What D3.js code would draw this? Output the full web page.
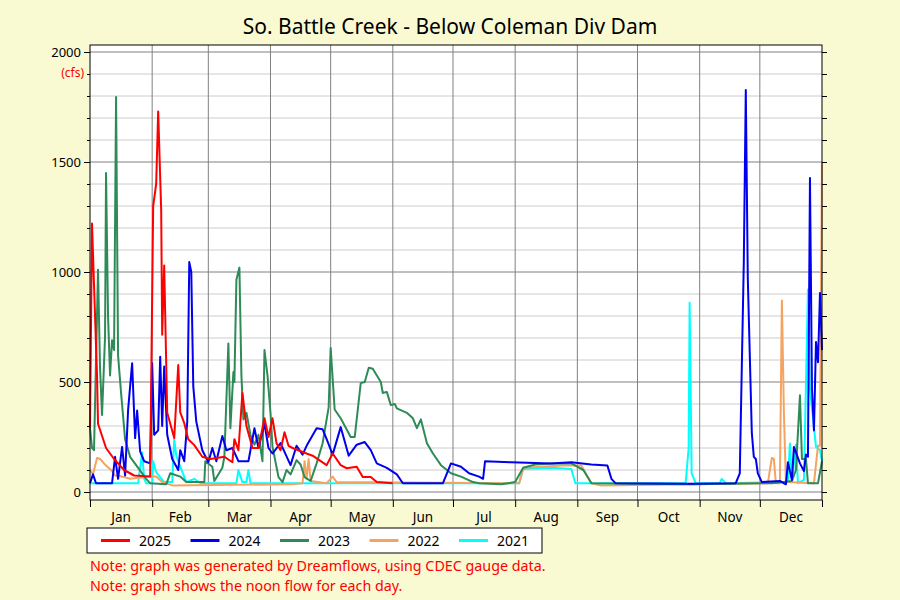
<!DOCTYPE html>
<html><head><meta charset="utf-8">
<script src="https://cdn.jsdelivr.net/npm/d3@7"></script>
<style>body{margin:0;background:#fafad2;}svg{display:block;font-family:"Noto Sans",sans-serif;}</style>
</head><body><svg id="c" width="900" height="600"></svg>
<script>
const months = ["Jan","Feb","Mar","Apr","May","Jun","Jul","Aug","Sep","Oct","Nov","Dec"];
const monthStarts = [0,31,59,90,120,151,181,212,243,273,304,334,365];
const yTicks = [0,500,1000,1500,2000];
const seriesNames = ["2025","2024","2023","2022","2021"];
const seriesColors = ["#ff0000","#0000ee","#2e8b57","#f4a460","#00ffff"];

const s2025 = [[0,290],[1,1220],[3.5,530],[4,310],[8,200],[12,150],[17,100],[22,75],[30,70],[31.5,1300],[33,1400],[34,1730],[35.5,1280],[36,715],[37,1030],[38.5,360],[42,245],[44,577],[45,362],[47,313],[49,240],[52,213],[56,160],[60,150],[67,160],[71,135],[72,240],[74,190],[76,450],[78,300],[81,200],[84,200],[87,335],[89,250],[91,335],[93,222],[95,190],[97,272],[99,210],[101,200],[108,175],[111,165],[118,122],[121,175],[125,122],[128,108],[133,115],[136,68],[140,68],[143,45],[151,40]];
const s2024 = [[0,40],[1.5,80],[3,40],[11,40],[12.5,160],[14,60],[16,205],[17.5,75],[19,373],[21,585],[22.5,245],[23.5,370],[25,185],[27,140],[30,130],[31,585],[32,260],[34,280],[35,615],[36,300],[37,570],[38.5,260],[41,150],[44,100],[45,190],[47,140],[48.5,320],[49.5,1045],[50.5,1000],[51.5,480],[53,320],[56,190],[59,135],[61,200],[63,140],[66,255],[68,190],[71,200],[74,140],[79,140],[82,290],[84,200],[87,310],[89,200],[91,175],[95,222],[100,122],[103,210],[106,170],[108,210],[113,290],[116,285],[118,240],[121,170],[125,295],[129,165],[133,215],[137,227],[140,190],[143,130],[148,110],[153,80],[156,40],[176,40],[180,130],[185,115],[189,85],[194,70],[196,60],[197,140],[210,135],[230,130],[240,135],[250,125],[258,120],[260,60],[262,40],[300,38],[322,40],[324,85],[326,1040],[327,1827],[328,970],[330,270],[331,160],[332,150],[333,85],[335,45],[344,50],[347,35],[348,135],[350,55],[351,205],[354,130],[356,95],[357,170],[358,160],[359,1427],[360,464],[361,280],[362,682],[363,590],[364,905],[365,645]];
const s2023 = [[0,290],[1,200],[2,190],[4,1010],[5,565],[6,350],[7.5,705],[8,1450],[9,800],[10,530],[11,690],[12,645],[13,1795],[14,620],[15.5,450],[17.5,240],[20,160],[24,110],[28,60],[30,40],[38,35],[40,85],[45,70],[48,45],[57,45],[57.5,140],[61,115],[62,50],[66,110],[67,160],[69,675],[70,290],[71.5,545],[72,500],[73,965],[74.5,1020],[75.5,530],[76.5,330],[78,360],[80,260],[82,215],[84,260],[86,140],[87,645],[88.5,530],[90,360],[91,205],[94,68],[96,45],[98,100],[100,80],[103,145],[105,125],[107,68],[110,50],[113,130],[116,222],[119,385],[120,655],[122,375],[125,335],[130,250],[132,250],[135,495],[137,500],[139,565],[141,560],[145,500],[146,450],[148,455],[150,395],[152,400],[153,380],[158,360],[161,335],[163,290],[165,330],[168,222],[171,175],[175,122],[180,85],[185,70],[191,45],[194,40],[205,35],[212,45],[216,110],[222,125],[230,130],[240,130],[246,100],[250,40],[300,35],[340,40],[350,50],[352,100],[354,440],[355,150],[357,150],[358,40],[363,40],[365,140]];
const s2022 = [[0,100],[1.5,80],[3.5,155],[5,150],[8,120],[11,95],[12.5,75],[16,70],[20,60],[30,70],[33,70],[36,45],[41,30],[100,35],[106,40],[107,140],[108,60],[109,150],[110,50],[118,40],[121,70],[123,45],[214,40],[216,110],[225,115],[235,120],[245,120],[250,40],[255,30],[338,40],[340,155],[341,150],[342,40],[344,40],[345,870],[346,360],[347,45],[361,40],[363,210],[364,210],[365,1500]];
const s2021 = [[0,40],[24,40],[26,180],[27,60],[28,40],[31,40],[31.5,140],[33,90],[37,45],[41,45],[42,240],[43,165],[45,115],[48,45],[52,60],[55,40],[73,40],[74,100],[76,45],[78,45],[79,100],[80,40],[214,40],[216,105],[230,110],[240,105],[242,40],[297,40],[298.5,200],[299,860],[300,85],[302,40],[314,40],[315,60],[317,40],[348,45],[349,220],[350,45],[352,215],[353,40],[356,55],[358,920],[359,470],[362,205],[364,190],[365,140]];
const allSeries = [s2025,s2024,s2023,s2022,s2021];

const svg = d3.select("#c");
const L=90,R=822,T=45,B=500;
const x = d3.scaleLinear().domain([0,365]).range([L,R]);
const y = d3.scaleLinear().domain([0,2000]).range([492,52]);
svg.append("rect").attr("x",L).attr("y",T).attr("width",R-L).attr("height",B-T).attr("fill","#fff");
const g = svg.append("g");
d3.range(0,2001,100).forEach(v=>{ if(v%500) g.append("line").attr("x1",L).attr("x2",R).attr("y1",y(v)).attr("y2",y(v)).attr("stroke","#ccc");});
yTicks.forEach(v=>g.append("line").attr("x1",L).attr("x2",R).attr("y1",y(v)).attr("y2",y(v)).attr("stroke","#808080"));
monthStarts.slice(1,12).forEach(d=>g.append("line").attr("x1",x(d)).attr("x2",x(d)).attr("y1",T).attr("y2",B).attr("stroke","#808080"));
const line = d3.line().x(d=>x(d[0])).y(d=>y(d[1]));
for(let i=allSeries.length-1;i>=0;i--){
  g.append("path").attr("d",line(allSeries[i])).attr("fill","none").attr("stroke",seriesColors[i]).attr("stroke-width",2).attr("stroke-linejoin","round");
}
svg.append("rect").attr("x",L).attr("y",T).attr("width",R-L).attr("height",B-T).attr("fill","none").attr("stroke","#000");
const yL = svg.append("g").attr("transform",`translate(${L},0)`).call(d3.axisLeft(y).tickValues(yTicks).tickSize(6).tickSizeOuter(0).tickFormat(d3.format("d")));
const yR = svg.append("g").attr("transform",`translate(${R},0)`).call(d3.axisRight(y).tickValues(d3.range(0,2001,100)).tickSize(5).tickFormat("").tickSizeOuter(0));
const yLm = svg.append("g").attr("transform",`translate(${L},0)`).call(d3.axisLeft(y).tickValues(d3.range(0,2001,100)).tickSize(3).tickFormat("").tickSizeOuter(0));
[yL,yR,yLm].forEach(a=>{a.select(".domain").remove();});
yL.selectAll("text").attr("font-size",13).attr("fill","#000").attr("font-family","Noto Sans");
const xA = svg.append("g").attr("transform",`translate(0,${B})`).call(d3.axisBottom(x).tickValues(monthStarts).tickSize(7).tickFormat(""));
xA.select(".domain").remove();
months.forEach((m,i)=>svg.append("text").attr("x",x((monthStarts[i]+monthStarts[i+1])/2)).attr("y",522).attr("text-anchor","middle").attr("font-size",13.5).text(m));
svg.append("text").attr("x",450).attr("y",34).attr("text-anchor","middle").attr("font-size",21).text("So. Battle Creek - Below Coleman Div Dam");
svg.append("text").attr("x",84).attr("y",77).attr("text-anchor","end").attr("font-size",12).attr("fill","#ff0000").text("(cfs)");
svg.append("rect").attr("x",87).attr("y",528).attr("width",455).attr("height",25).attr("fill","#fff").attr("stroke","#000");
seriesNames.forEach((n,i)=>{
  const lx=101+i*89.5;
  svg.append("line").attr("x1",lx).attr("x2",lx+29).attr("y1",540.5).attr("y2",540.5).attr("stroke",seriesColors[i]).attr("stroke-width",3);
  svg.append("text").attr("x",lx+38).attr("y",545.5).attr("font-size",14).text(n);
});
svg.append("text").attr("x",90).attr("y",571).attr("font-size",14.3).attr("fill","#ff0000").text("Note: graph was generated by Dreamflows, using CDEC gauge data.");
svg.append("text").attr("x",90).attr("y",591).attr("font-size",14.3).attr("fill","#ff0000").text("Note: graph shows the noon flow for each day.");
</script></body></html>
